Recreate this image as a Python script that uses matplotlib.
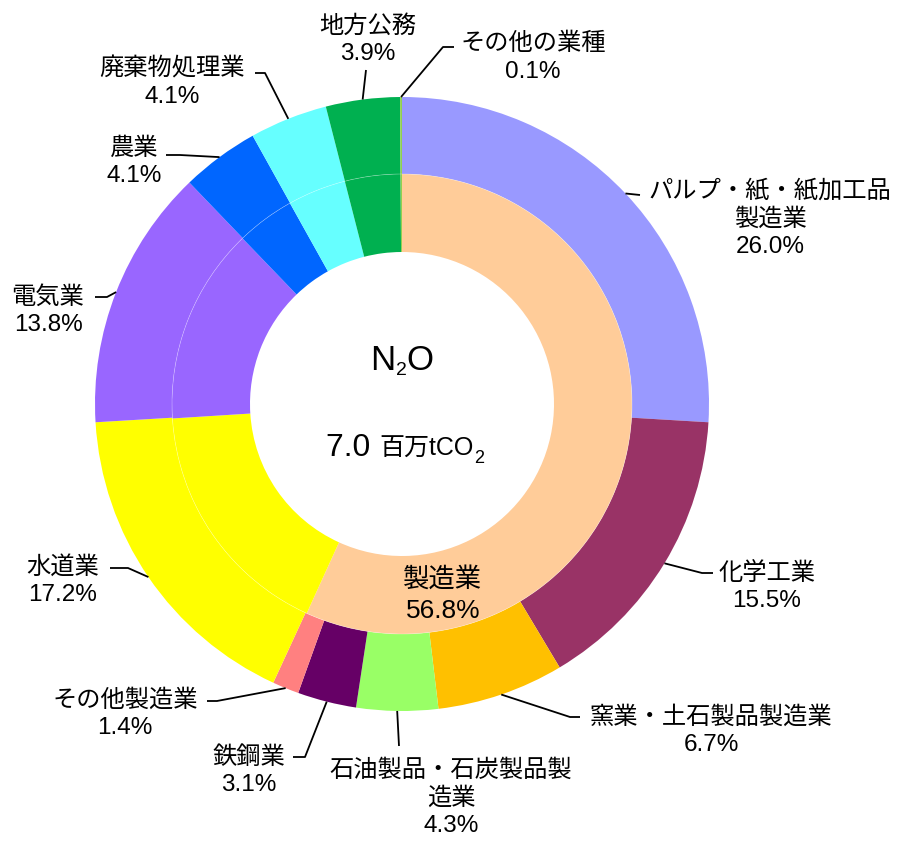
import matplotlib
matplotlib.use("Agg")
import numpy as np
import matplotlib.pyplot as plt
from matplotlib.patches import Circle

plt.rcParams['font.family'] = ['Liberation Sans', 'Noto Sans CJK JP']

# data
outer_labels = ['パルプ・紙・紙加工品\n製造業', '化学工業', '窯業・土石製品製造業',
                '石油製品・石炭製品製\n造業', '鉄鋼業', 'その他製造業', '水道業',
                '電気業', '農業', '廃棄物処理業', '地方公務', 'その他の業種']
outer_values = [26.0, 15.5, 6.7, 4.3, 3.1, 1.4, 17.2, 13.8, 4.1, 4.1, 3.9, 0.1]
outer_colors = ['#9999FF', '#993366', '#FFC000', '#99FF66', '#660066', '#FF8080',
                '#FFFF00', '#9966FF', '#0066FF', '#66FFFF', '#00B050', '#92D050']

inner_labels = ['製造業', '水道業', '電気業', '農業', '廃棄物処理業', '地方公務', 'その他の業種']
inner_values = [56.8, 17.2, 13.8, 4.1, 4.1, 3.9, 0.1]
inner_colors = ['#FFCC99', '#FFFF00', '#9966FF', '#0066FF', '#66FFFF', '#00B050', '#92D050']

total = 7.0

# layout (pixels, y measured from top)
W, H = 899, 842
cx, cy = 402, 404
R_out, R_mid, R_in = 307, 230, 152

fig = plt.figure(figsize=(W / 100, H / 100), dpi=100)
ax = fig.add_axes([0, 0, 1, 1])

outer, _ = ax.pie(outer_values, radius=R_out, center=(cx, H - cy), startangle=90,
                  counterclock=False, colors=outer_colors,
                  wedgeprops=dict(width=R_out - R_mid, edgecolor='none'))
inner, _ = ax.pie(inner_values, radius=R_mid, center=(cx, H - cy), startangle=90,
                  counterclock=False, colors=inner_colors,
                  wedgeprops=dict(width=R_mid - R_in, edgecolor='none'))
ax.add_patch(Circle((cx, H - cy), R_mid, fill=False, ec='white', lw=0.5, alpha=0.35))

ax.set_xlim(0, W)
ax.set_ylim(0, H)
ax.set_aspect('equal')
ax.axis('off')

# label text centre and leader points (pixel coords from top)
label_pos = [(770, 219), (767, 587), (711, 731), (451, 798), (249, 771), (125, 714),
             (63, 581), (48, 311), (134, 162), (172, 83), (368, 40), (533, 58)]
leaders = [[(640, 195)],
           [(702, 573), (713, 573)],
           [(570, 717), (580, 717)],
           [(399, 746)],
           [(305, 757), (293, 757)],
           [(217, 701), (207, 701)],
           [(128, 568), (110, 568)],
           [(107, 297), (95, 297)],
           [(180, 155), (166, 155)],
           [(265, 73), (255, 73)],
           [(366, 70)],
           [(443, 47), (454, 47)]]

for w, lab, val, (tx, ty), pts in zip(outer, outer_labels, outer_values, label_pos, leaders):
    ang = np.deg2rad((w.theta1 + w.theta2) / 2)
    ax0 = cx + R_out * np.cos(ang)
    ay0 = (H - cy) + R_out * np.sin(ang)
    xs = [ax0] + [p[0] for p in pts]
    ys = [ay0] + [H - p[1] for p in pts]
    ax.plot(xs, ys, color='black', lw=1.3, solid_capstyle='butt')
    ax.text(tx, H - ty, f'{lab}\n{val:.1f}%', ha='center', va='center',
            fontsize=17.5, multialignment='center', linespacing=1.32)

ax.text(443, H - 595, f'{inner_labels[0]}\n{inner_values[0]:.1f}%', ha='center',
        va='center', fontsize=19, linespacing=1.35)

# centre text with subscripts
renderer = fig.canvas.get_renderer()


def draw_runs(xc, yb, runs):
    texts = []
    for s, size, dy in runs:
        t = ax.text(0, 0, s, fontsize=size, va='baseline', ha='left')
        texts.append((t, dy))
    widths = [t.get_window_extent(renderer).width for t, _ in texts]
    x = xc - sum(widths) / 2
    for (t, dy), wd in zip(texts, widths):
        t.set_position((x, H - yb - dy))
        x += wd


draw_runs(402, 370, [('N', 25, 0), ('2', 14, 5), ('O', 25, 0)])
draw_runs(405, 456, [(f'{total:.1f} ', 23, 0), ('百万tCO', 18, 0), ('2', 13, 7)])

fig.savefig('out.png', dpi=100)
